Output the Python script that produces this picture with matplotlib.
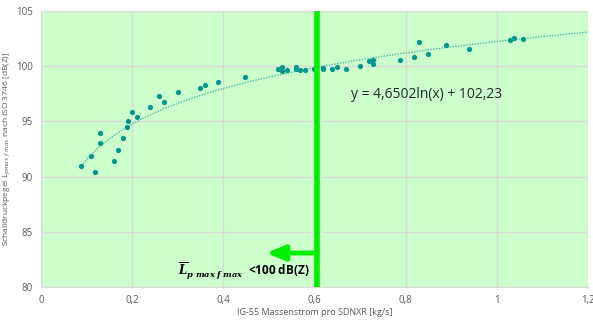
import numpy as np
import matplotlib
matplotlib.use("Agg")
import matplotlib.pyplot as plt

plt.rcParams['font.family'] = ['Open Sans', 'DejaVu Sans']
plt.rcParams['mathtext.fontset'] = 'dejavuserif'

# measured points (mass flow kg/s, sound pressure level dB(Z))
mass_flow = [0.089, 0.109, 0.119, 0.130, 0.130, 0.160, 0.170, 0.180, 0.189, 0.190,
             0.200, 0.210, 0.239, 0.259, 0.269, 0.300, 0.350, 0.359, 0.389, 0.448,
             0.519, 0.529, 0.529, 0.539, 0.559, 0.559, 0.569, 0.579, 0.598, 0.619,
             0.619, 0.639, 0.649, 0.669, 0.699, 0.719, 0.728, 0.728, 0.788, 0.819,
             0.829, 0.849, 0.889, 0.938, 1.028, 1.038, 1.058]
level = [90.93, 91.87, 90.42, 93.95, 93.07, 91.39, 92.41, 93.50, 94.52, 95.06,
         95.88, 95.43, 96.30, 97.30, 96.79, 97.63, 98.00, 98.30, 98.60, 99.05,
         99.77, 99.93, 99.57, 99.63, 99.93, 99.72, 99.63, 99.69, 99.72, 99.84,
         99.78, 99.77, 99.90, 99.75, 99.99, 100.44, 100.53, 100.17, 100.53, 100.86,
         102.22, 101.10, 101.92, 101.56, 102.37, 102.53, 102.44]

# logarithmic trend y = a ln(x) + b
trend_a = 4.6502
trend_b = 102.23
limit_flow = 0.605

x_ticks = [0, 0.2, 0.4, 0.6, 0.8, 1.0, 1.2]
x_tick_labels = ["0", "0,2", "0,4", "0,6", "0,8", "1", "1,2"]
y_ticks = [80, 85, 90, 95, 100, 105]

fig = plt.figure(figsize=(5.93, 3.20), dpi=100)
ax = fig.add_axes([0.069, 0.103, 0.9226, 0.863])
ax.set_facecolor("#ccffcc")

ax.set_xlim(0, 1.2)
ax.set_ylim(80, 105)
ax.set_xticks(x_ticks)
ax.set_xticklabels(x_tick_labels)
ax.set_yticks(y_ticks)
ax.grid(True, color="#d9d9d9", linewidth=1)
ax.set_axisbelow(True)
ax.tick_params(length=0, labelsize=7, colors="#595959", pad=6)
for side in ["top", "right"]:
    ax.spines[side].set_visible(False)
for side in ["left", "bottom"]:
    ax.spines[side].set_color("#d9d9d9")

# trend line
xt = np.linspace(min(mass_flow), 1.2, 300)
ax.plot(xt, trend_a * np.log(xt) + trend_b, linestyle=(0, (1, 1)),
        color="#4fb8a8", linewidth=1, zorder=2)

ax.scatter(mass_flow, level, s=14, color="#009590", zorder=3, linewidths=0)

# limit line and arrow
ax.axvline(limit_flow, color="#00ee00", linewidth=4, zorder=4)
ax.annotate("", xy=(0.494, 83.08), xytext=(0.597, 83.08),
            arrowprops=dict(arrowstyle="-|>,head_width=0.45,head_length=1.1",
                            color="#00ee00", lw=3.5, shrinkA=0, shrinkB=0),
            zorder=5)

ax.text(0.68, 97.4, "y = 4,6502ln(x) + 102,23", fontsize=10, color="#262626",
        va="center", ha="left")
ax.text(0.589, 81.45,
        r"$\overline{\boldsymbol{L}}_{\boldsymbol{p\ max\ f\ max}}$  " + r"<100 dB(Z)",
        fontsize=8.5, fontweight="bold", color="#000000", va="center", ha="right")

ax.set_xlabel("IG-55 Massenstrom pro SDNXR [kg/s]", fontsize=6.5, color="#595959",
              labelpad=1)
ax.set_ylabel(r"Schalldruckpegel L$_{pmax\ f\ max}$ nach ISO 3746 [dB(Z)]",
              fontsize=6, color="#595959", labelpad=3)

fig.savefig("out.png", dpi=100)
